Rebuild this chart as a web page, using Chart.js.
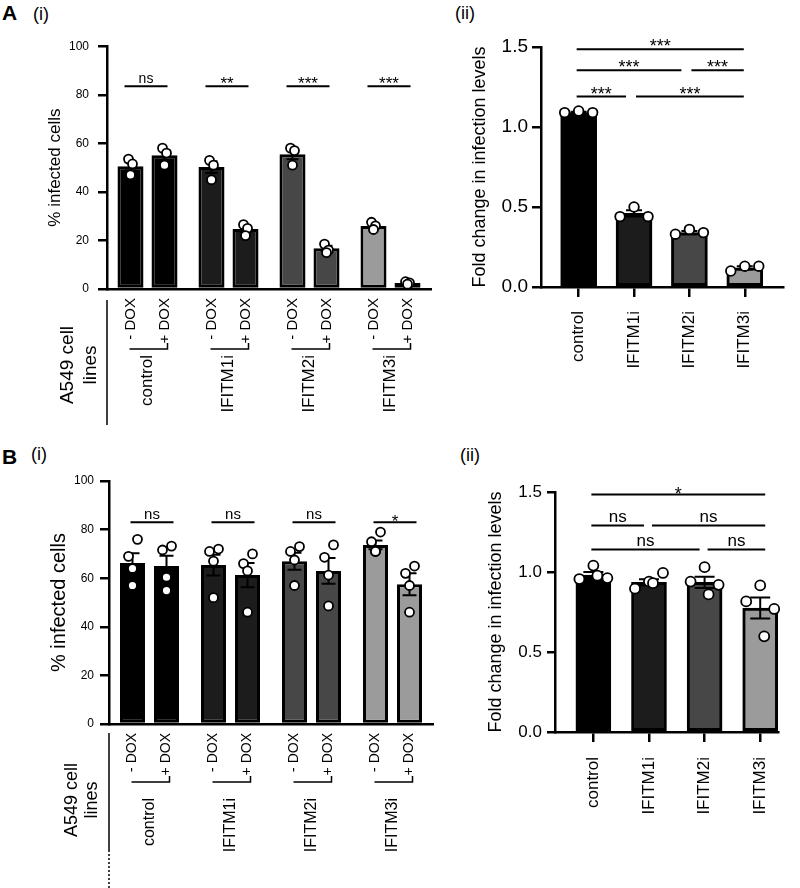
<!DOCTYPE html>
<html>
<head>
<meta charset="utf-8">
<script src="https://cdn.jsdelivr.net/npm/chart.js@4.4.1/dist/chart.umd.min.js"></script>
<style>
  body { margin: 0; background: #fff; font-family: "Liberation Sans", Arial, sans-serif; }
  #page { position: relative; width: 800px; height: 888px; overflow: hidden; background: #fff; }
  canvas { position: absolute; }
  .tag { position: absolute; line-height: 1; color: #000; white-space: nowrap; }
</style>
</head>
<body>
<div id="page">
  <div class="tag" style="left:2px;top:2px;font-size:21px;font-weight:bold">A</div>
  <div class="tag" style="left:33px;top:5px;font-size:18px">(i)</div>
  <div class="tag" style="left:455px;top:4px;font-size:18px">(ii)</div>
  <div class="tag" style="left:2px;top:446px;font-size:21px;font-weight:bold">B</div>
  <div class="tag" style="left:31px;top:445px;font-size:18px">(i)</div>
  <div class="tag" style="left:460px;top:446px;font-size:18px">(ii)</div>

  <canvas id="a1" width="440" height="400" style="left:0;top:30px"></canvas>
  <canvas id="a2" width="360" height="400" style="left:440px;top:30px"></canvas>
  <canvas id="b1" width="440" height="428" style="left:0;top:460px"></canvas>
  <canvas id="b2" width="360" height="428" style="left:440px;top:460px"></canvas>
</div>

<script>
Chart.defaults.font.family = '"Liberation Sans", Arial, Helvetica, sans-serif';
Chart.defaults.color = '#000';
Chart.defaults.animation = false;

// ---- shared categories ----
const groups = ['control', 'IFITM1i', 'IFITM2i', 'IFITM3i'];
const doxLabels = ['- DOX', '+ DOX'];
const barColors = ['#000000', '#1c1c1c', '#474747', '#9b9b9b'];
const pctTicks = [0, 20, 40, 60, 80, 100];
const foldTicks = [0, 0.5, 1.0, 1.5];

// ---- A (i) % infected cells ----
const a1Minus = [50.6, 50.2, 55.5, 25.9];
const a1Plus = [55.1, 24.7, 16.8, 2.5];
const a1MinusSem = [1.8, 2.4, 2.1, 0.8];
const a1PlusSem = [2.0, 1.2, 1.0, 0.3];
const a1MinusPts = [[53.5, 51.5, 47], [53, 51, 45], [58, 57, 51], [27.5, 26, 24.5]];
const a1PlusPts = [[58, 56, 51], [26.5, 25, 22], [18.5, 16, 15], [3, 2.5, 2]];
const a1Sig = ['ns', '**', '***', '***'];
const a1SigLevel = 83.5;

// ---- A (ii) fold change ----
const a2Values = [1.09, 0.46, 0.34, 0.12];
const a2Sem = [0.005, 0.02, 0.01, 0.01];
const a2Pts = [[1.09, 1.10, 1.09], [0.44, 0.50, 0.44], [0.33, 0.36, 0.34], [0.10, 0.13, 0.13]];
const a2SigFrom = [0, 0, 2, 0, 1];
const a2SigTo = [3, 2, 3, 1, 3];
const a2SigLevel = [1.486, 1.355, 1.355, 1.19, 1.19];
const a2SigText = ['***', '***', '***', '***', '***'];

// ---- B (i) % infected cells ----
const b1Minus = [66.3, 65.4, 67.0, 73.7];
const b1Plus = [65.0, 61.3, 63.0, 57.5];
const b1MinusSem = [4.0, 4.3, 3.5, 1.8];
const b1PlusSem = [4.2, 5.0, 5.3, 4.5];
const b1MinusPts = [[69, 76, 64, 57], [71, 72, 67, 52], [71, 73, 67.5, 57], [75, 79, 71, 71]];
const b1PlusPts = [[71.6, 73.2, 60.4, 54.9], [66, 70, 63, 46], [68.6, 73.7, 61.3, 48.6], [62, 65, 57, 46]];
const b1Sig = ['ns', 'ns', 'ns', '*'];
const b1SigLevel = 83;

// ---- B (ii) fold change ----
const b2Values = [0.98, 0.935, 0.935, 0.775];
const b2Sem = [0.02, 0.02, 0.035, 0.065];
const b2Pts = [[0.956, 1.04, 0.977, 0.962], [0.896, 0.94, 0.93, 0.994], [0.94, 1.03, 0.86, 0.92], [0.816, 0.916, 0.598, 0.769]];
const b2SigFrom = [0, 0, 1, 0, 2];
const b2SigTo = [3, 1, 3, 2, 3];
const b2SigLevel = [1.485, 1.29, 1.29, 1.14, 1.14];
const b2SigText = ['*', 'ns', 'ns', 'ns', 'ns'];

// =============================
// drawing helpers
// =============================
function errorBar(ctx, x, yTop, yBot, half) {
  ctx.beginPath();
  ctx.moveTo(x, yTop); ctx.lineTo(x, yBot);
  ctx.moveTo(x - half, yTop); ctx.lineTo(x + half, yTop);
  ctx.moveTo(x - half, yBot); ctx.lineTo(x + half, yBot);
  ctx.stroke();
}

function dot(ctx, x, y, r) {
  ctx.beginPath();
  ctx.arc(x, y, r, 0, Math.PI * 2);
  ctx.fillStyle = '#fff';
  ctx.fill();
  ctx.stroke();
}

function sigLabel(ctx, text, x, lineY, st) {
  const stars = text.indexOf('*') >= 0;
  ctx.font = (stars ? st.starFont : st.sigFont) + 'px "Liberation Sans", Arial, sans-serif';
  ctx.textAlign = 'center';
  ctx.textBaseline = 'alphabetic';
  ctx.fillStyle = '#000';
  ctx.fillText(text, x, stars ? lineY + st.starDrop : lineY - st.nsLift);
}

function vText(ctx, text, x, y, align, size) {
  ctx.save();
  ctx.translate(x, y);
  ctx.rotate(-Math.PI / 2);
  ctx.font = size + 'px "Liberation Sans", Arial, sans-serif';
  ctx.textAlign = align;
  ctx.textBaseline = 'middle';
  ctx.fillStyle = '#000';
  ctx.fillText(text, 0, 0);
  ctx.restore();
}

// overlay for the -DOX / +DOX panels
function groupOverlay(d, st) {
  return {
    id: 'groupOverlay',
    afterDatasetsDraw(chart) {
      const ctx = chart.ctx;
      const ys = chart.scales.y;
      const area = chart.chartArea;
      const metas = [chart.getDatasetMeta(0).data, chart.getDatasetMeta(1).data];
      const vals = [d.minus, d.plus], sems = [d.minusSem, d.plusSem], pts = [d.minusPts, d.plusPts];
      ctx.save();
      ctx.strokeStyle = '#000';
      ctx.lineWidth = 2;
      metas.forEach((bars, s) => bars.forEach((bar, i) => {
        const m = vals[s][i], e = sems[s][i];
        errorBar(ctx, bar.x, ys.getPixelForValue(m + e), ys.getPixelForValue(m - e), st.cap);
      }));
      ctx.lineWidth = 1.8;
      metas.forEach((bars, s) => bars.forEach((bar, i) => {
        pts[s][i].forEach((v, k) => dot(ctx, bar.x + st.jitter[k], ys.getPixelForValue(v), st.r));
      }));

      // significance above each pair
      const sy = ys.getPixelForValue(d.sigLevel);
      ctx.lineWidth = 2;
      groups.forEach((g, i) => {
        const x1 = metas[0][i].x + st.sigOff[0], x2 = metas[1][i].x + st.sigOff[1];
        ctx.beginPath(); ctx.moveTo(x1, sy); ctx.lineTo(x2, sy); ctx.stroke();
        sigLabel(ctx, d.sig[i], (x1 + x2) / 2, sy, st);
      });

      // labels under the axis
      const b = area.bottom;
      ctx.lineWidth = 1.5;
      ctx.beginPath();
      ctx.moveTo(area.left, b + st.vLine[0]); ctx.lineTo(area.left, b + st.vLine[1]);
      ctx.stroke();
      if (st.vDash) {
        ctx.setLineDash([2, 2]);
        ctx.beginPath();
        ctx.moveTo(area.left, b + st.vLine[1]); ctx.lineTo(area.left, b + st.vDash);
        ctx.stroke();
        ctx.setLineDash([]);
      }
      groups.forEach((g, i) => {
        const xm = metas[0][i].x, xp = metas[1][i].x;
        vText(ctx, doxLabels[0], xm, b + st.doxGap, 'right', st.doxFont);
        vText(ctx, doxLabels[1], xp, b + st.doxGap, 'right', st.doxFont);
        const bx1 = xm - 1, bx2 = xp + 3, by = b + st.bracketY;
        ctx.beginPath();
        ctx.moveTo(bx1, by); ctx.lineTo(bx2, by); ctx.lineTo(bx2, by - 6);
        ctx.stroke();
        vText(ctx, g, (xm + xp) / 2, b + st.nameGap, 'right', st.nameFont);
      });
      vText(ctx, 'A549 cell', st.cellX[0], b + st.cellY, 'center', st.cellFont);
      vText(ctx, 'lines', st.cellX[1], b + st.cellY, 'center', st.cellFont);
      ctx.restore();
    }
  };
}

// overlay for the fold-change panels
function foldOverlay(d, st) {
  return {
    id: 'foldOverlay',
    afterDatasetsDraw(chart) {
      const ctx = chart.ctx;
      const ys = chart.scales.y;
      const bars = chart.getDatasetMeta(0).data;
      ctx.save();
      ctx.strokeStyle = '#000';
      ctx.lineWidth = 2;
      bars.forEach((bar, i) => {
        const m = d.values[i], e = d.sem[i];
        errorBar(ctx, bar.x, ys.getPixelForValue(m + e), ys.getPixelForValue(m - e), st.cap);
      });
      ctx.lineWidth = 1.8;
      bars.forEach((bar, i) => {
        d.pts[i].forEach((v, k) => dot(ctx, bar.x + st.jitter[k], ys.getPixelForValue(v), st.r));
      });
      ctx.lineWidth = 2;
      d.from.forEach((f, k) => {
        const t = d.to[k], lv = d.level[k];
        const startMeets = d.to.some((tt, j) => j !== k && d.level[j] === lv && tt === f);
        const endMeets = d.from.some((ff, j) => j !== k && d.level[j] === lv && ff === t);
        const x1 = bars[f].x + (startMeets ? st.gapIn : -2);
        const x2 = bars[t].x + (endMeets ? -st.gapOut : st.ext);
        const y = ys.getPixelForValue(lv);
        ctx.beginPath(); ctx.moveTo(x1, y); ctx.lineTo(x2, y); ctx.stroke();
        sigLabel(ctx, d.text[k], (x1 + x2) / 2, y, st);
      });
      ctx.restore();
    }
  };
}

// =============================
// chart builders
// =============================
function infectedChart(id, d, st) {
  const ds = (data) => ({
    data: data, backgroundColor: barColors, borderColor: '#000', borderWidth: 3,
    borderSkipped: false, categoryPercentage: 0.84, barPercentage: st.barPct
  });
  return new Chart(document.getElementById(id), {
    type: 'bar',
    data: { labels: groups, datasets: [ds(d.minus), ds(d.plus)] },
    options: {
      responsive: false,
      layout: { padding: st.pad },
      plugins: { legend: { display: false }, tooltip: { enabled: false } },
      scales: {
        x: {
          grid: { drawOnChartArea: false, drawTicks: false },
          ticks: { display: false },
          border: { color: '#000', width: 2.5 },
          afterFit: (s) => { s.height = st.xHeight; }
        },
        y: {
          min: 0, max: 100,
          afterBuildTicks: (s) => { s.ticks = pctTicks.map(v => ({ value: v })); },
          ticks: { font: { size: 12 }, padding: st.tickPad, color: '#000' },
          grid: { drawOnChartArea: false, tickLength: 9, color: '#000', lineWidth: 2.5 },
          border: { color: '#000', width: 2.5 },
          title: { display: true, text: '% infected cells', color: '#000',
                   font: { size: st.titleSize }, padding: { top: st.titlePad, bottom: 0 } },
          afterFit: (s) => { s.width = st.yWidth; }
        }
      }
    },
    plugins: [groupOverlay(d, st)]
  });
}

function foldChart(id, d, st) {
  return new Chart(document.getElementById(id), {
    type: 'bar',
    data: {
      datasets: [{
        data: d.values.map((v, i) => ({ x: i, y: v })),
        backgroundColor: barColors, borderColor: '#000', borderWidth: 3,
        borderSkipped: false, barThickness: st.barWidth
      }]
    },
    options: {
      responsive: false,
      layout: { padding: st.pad },
      plugins: { legend: { display: false }, tooltip: { enabled: false } },
      scales: {
        x: {
          type: 'linear', min: st.xMin, max: st.xMax, offset: false,
          afterBuildTicks: (s) => { s.ticks = groups.map((g, i) => ({ value: i })); },
          ticks: { callback: (v) => groups[v], minRotation: 90, maxRotation: 90, autoSkip: false,
                   font: { size: 17 }, padding: st.xPad, color: '#000' },
          grid: { offset: false, drawOnChartArea: false, tickLength: 10, color: '#000', lineWidth: 2.5 },
          border: { color: '#000', width: 2.5 },
          afterFit: (s) => { s.height = st.xHeight; }
        },
        y: {
          min: 0, max: 1.5,
          afterBuildTicks: (s) => { s.ticks = foldTicks.map(v => ({ value: v })); },
          ticks: { callback: (v) => v.toFixed(1), font: { size: st.tickSize }, padding: st.tickPad, color: '#000' },
          grid: { drawOnChartArea: false, tickLength: st.tickLen, color: '#000', lineWidth: 2.5 },
          border: { color: '#000', width: 2.5 },
          title: { display: true, text: 'Fold change in infection levels', color: '#000',
                   font: { size: 18 }, padding: { top: st.titlePad, bottom: 0 } },
          afterFit: (s) => { s.width = st.yWidth; }
        }
      }
    },
    plugins: [foldOverlay(d, st)]
  });
}

infectedChart('a1',
  { minus: a1Minus, plus: a1Plus, minusSem: a1MinusSem, plusSem: a1PlusSem,
    minusPts: a1MinusPts, plusPts: a1PlusPts, sig: a1Sig, sigLevel: a1SigLevel },
  { pad: { top: 16, right: 9, left: 0, bottom: 0 }, yWidth: 107, xHeight: 141, barPct: 0.765,
    tickPad: 9, titleSize: 17, titlePad: 45, cap: 6, r: 4.5, jitter: [-2, 2, 0],
    sigOff: [-6, 3], sigFont: 14, starFont: 17, starDrop: 3, nsLift: 3,
    vLine: [11, 136], vDash: 0, doxGap: 9, doxFont: 15, bracketY: 60, nameGap: 66, nameFont: 17,
    cellX: [68, 91], cellY: 76, cellFont: 19 });

foldChart('a2',
  { values: a2Values, sem: a2Sem, pts: a2Pts, from: a2SigFrom, to: a2SigTo, level: a2SigLevel, text: a2SigText },
  { pad: { top: 17, right: 17, left: 0, bottom: 0 }, yWidth: 101, xHeight: 143, barWidth: 36,
    xMin: -0.68, xMax: 3.69, xPad: 14, tickSize: 19, tickPad: 4, tickLen: 9, titlePad: 29,
    cap: 8, r: 4.8, jitter: [-14, 0, 14], gapIn: 2, gapOut: 8, ext: -1,
    sigFont: 15, starFont: 18, starDrop: 3, nsLift: 3 });

infectedChart('b1',
  { minus: b1Minus, plus: b1Plus, minusSem: b1MinusSem, plusSem: b1PlusSem,
    minusPts: b1MinusPts, plusPts: b1PlusPts, sig: b1Sig, sigLevel: b1SigLevel },
  { pad: { top: 21, right: 7, left: 0, bottom: 0 }, yWidth: 109, xHeight: 164, barPct: 0.735,
    tickPad: 6, titleSize: 20, titlePad: 47, cap: 7, r: 4.5, jitter: [-4, 5, 0, 0],
    sigOff: [-2, 7], sigFont: 15, starFont: 17, starDrop: 5, nsLift: 3,
    vLine: [9, 126], vDash: 164, doxGap: 9, doxFont: 14, bracketY: 58, nameGap: 74, nameFont: 16,
    cellX: [72, 92], cellY: 76, cellFont: 18 });

foldChart('b2',
  { values: b2Values, sem: b2Sem, pts: b2Pts, from: b2SigFrom, to: b2SigTo, level: b2SigLevel, text: b2SigText },
  { pad: { top: 32, right: 22, left: 0, bottom: 0 }, yWidth: 115, xHeight: 156, barWidth: 35,
    xMin: -0.69, xMax: 3.32, xPad: 15, tickSize: 17, tickPad: 5, tickLen: 8, titlePad: 45,
    cap: 10, r: 5, jitter: [-14, 0, 4, 14], gapIn: 3, gapOut: 5, ext: 5,
    sigFont: 17, starFont: 18, starDrop: 6, nsLift: 4 });
</script>
</body>
</html>
